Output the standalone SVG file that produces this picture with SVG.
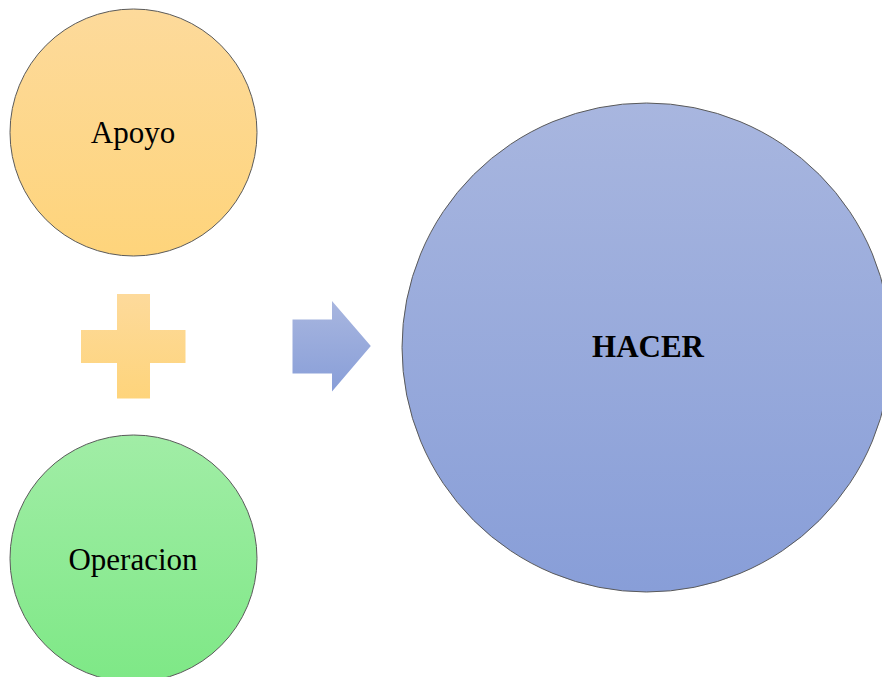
<svg xmlns="http://www.w3.org/2000/svg" width="882" height="677" viewBox="0 0 882 677">
  <defs>
    <linearGradient id="gOrange" x1="0" y1="0" x2="0" y2="1">
      <stop offset="0" stop-color="#FDDA9B"/>
      <stop offset="1" stop-color="#FED47B"/>
    </linearGradient>
    <linearGradient id="gGreen" x1="0" y1="0" x2="0" y2="1">
      <stop offset="0" stop-color="#A1EDA6"/>
      <stop offset="1" stop-color="#7EE886"/>
    </linearGradient>
    <linearGradient id="gBlue" x1="0" y1="0" x2="0" y2="1">
      <stop offset="0" stop-color="#A8B6DF"/>
      <stop offset="1" stop-color="#889ED8"/>
    </linearGradient>
    <linearGradient id="gPlus" x1="0" y1="294" x2="0" y2="399" gradientUnits="userSpaceOnUse">
      <stop offset="0" stop-color="#FDDA9B"/>
      <stop offset="1" stop-color="#FED47B"/>
    </linearGradient>
    <linearGradient id="gArrow" x1="0" y1="301" x2="0" y2="392" gradientUnits="userSpaceOnUse">
      <stop offset="0" stop-color="#A8B6DF"/>
      <stop offset="1" stop-color="#889ED8"/>
    </linearGradient>
    <style>
      .node { stroke: #5a5a5a; stroke-width: 1; }
      .label { font-family: "Liberation Serif", "Times New Roman", serif; font-size: 31px; fill: #000; text-anchor: middle; }
      .bold { font-weight: bold; }
    </style>
  </defs>
  <rect width="882" height="677" fill="#ffffff"/>

  <g id="apoyo">
    <circle class="node" cx="133.5" cy="132.5" r="123.5" fill="url(#gOrange)"/>
    <text class="label" x="133" y="143">Apoyo</text>
  </g>

  <g id="operacion">
    <circle class="node" cx="133.5" cy="558.5" r="123.5" fill="url(#gGreen)"/>
    <text class="label" x="133" y="570">Operacion</text>
  </g>

  <g id="hacer">
    <circle class="node" cx="646.5" cy="347.5" r="244.5" fill="url(#gBlue)"/>
    <text class="label bold" x="648" y="357">HACER</text>
  </g>

  <g id="connectors">
    <path d="M117 294 H150 V330 H185.5 V363 H150 V398.5 H117 V363 H81 V330 H117 Z" fill="url(#gPlus)"/>
    <path d="M292.5 319.5 H332 V301 L370.8 346 L332 391.5 V373.5 H292.5 Z" fill="url(#gArrow)"/>
  </g>
</svg>
